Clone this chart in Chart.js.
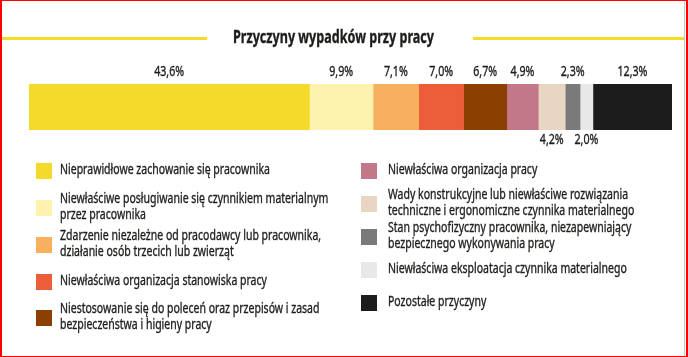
<!DOCTYPE html>
<html><head><meta charset="utf-8">
<script src="https://cdn.jsdelivr.net/npm/chart.js@4"></script>
<style>
html,body{margin:0;padding:0;background:#fff;}
#wrap{position:relative;width:688px;height:357px;overflow:hidden;}
canvas{position:absolute;left:0;top:0;}
#frame{position:absolute;left:0;top:0;width:688px;height:357px;box-sizing:border-box;border-top:1px solid #f00;border-left:2px solid #f00;border-right:2px solid #f00;border-bottom:1px solid #f00;pointer-events:none;}
#gline{position:absolute;left:684px;top:0;width:1px;height:357px;background:#c8c8c8;}
</style></head>
<body><div id="wrap"><canvas id="c" width="688" height="357"></canvas><div id="gline"></div><div id="frame"></div></div>
<script>
const chartTitle = 'Przyczyny wypadków przy pracy';
const categories = [
  ['Nieprawidłowe zachowanie się pracownika'],
  ['Niewłaściwe posługiwanie się czynnikiem materialnym', 'przez pracownika'],
  ['Zdarzenie niezależne od pracodawcy lub pracownika,', 'działanie osób trzecich lub zwierząt'],
  ['Niewłaściwa organizacja stanowiska pracy'],
  ['Niestosowanie się do poleceń oraz przepisów i zasad', 'bezpieczeństwa i higieny pracy'],
  ['Niewłaściwa organizacja pracy'],
  ['Wady konstrukcyjne lub niewłaściwe rozwiązania', 'techniczne i ergonomiczne czynnika materialnego'],
  ['Stan psychofizyczny pracownika, niezapewniający', 'bezpiecznego wykonywania pracy'],
  ['Niewłaściwa eksploatacja czynnika materialnego'],
  ['Pozostałe przyczyny']
];
const values = [43.6, 9.9, 7.1, 7.0, 6.7, 4.9, 4.2, 2.3, 2.0, 12.3];
const colors = ['#F5DA2C', '#FEF2AF', '#F7B05E', '#EC5E3A', '#8B3F00', '#C27889', '#E8D5C2', '#7A7A7A', '#E8E8E8', '#1C1C1C'];

const TEXT = '#1d1d1b';
const FONT = '"Noto Sans", "Open Sans", sans-serif';

function fitScale(ctx, font, ref, target) {
  ctx.save(); ctx.font = font; const w = ctx.measureText(ref).width; ctx.restore();
  return target / w;
}
function drawText(ctx, text, x, y, sx, align) {
  ctx.save(); ctx.translate(x, y); ctx.scale(sx, 1);
  ctx.textAlign = align; ctx.textBaseline = 'middle';
  ctx.fillText(text, 0, 0);
  ctx.lineWidth = 0.35; ctx.strokeStyle = ctx.fillStyle; ctx.strokeText(text, 0, 0);
  ctx.restore();
}

const decor = {
  id: 'decor',
  afterDraw(chart) {
    const ctx = chart.ctx;
    const tFont = 'bold 17px ' + FONT;
    const tsx = fitScale(ctx, tFont, chartTitle, 201);
    ctx.save();
    ctx.fillStyle = '#F5DA2C';
    ctx.fillRect(2, 37, 205, 3);
    ctx.fillRect(473, 37, 211, 3);
    ctx.fillStyle = TEXT; ctx.font = tFont;
    drawText(ctx, chartTitle, 333.5, 38, tsx, 'center');
    ctx.restore();

    const lFont = '14px ' + FONT;
    const lsx = fitScale(ctx, lFont, '43,6%', 30);
    ctx.save(); ctx.font = lFont; ctx.fillStyle = TEXT;
    const below = new Set([6, 8]);
    chart.data.datasets.forEach((ds, i) => {
      const el = chart.getDatasetMeta(i).data[0];
      const cx = (el.x + el.base) / 2;
      const top = el.y - el.height / 2, bot = el.y + el.height / 2;
      const txt = ds.data[0].toFixed(1).replace('.', ',') + '%';
      drawText(ctx, txt, cx, below.has(i) ? bot + 10 : top - 12, lsx, 'center');
    });
    ctx.restore();

    const gFont = '14px ' + FONT;
    const gsx = fitScale(ctx, gFont, 'Nieprawidłowe zachowanie się pracownika', 210);
    const cols = [
      {sq: 36, tx: 60, rows: [171, 208, 245, 282, 318]},
      {sq: 361, tx: 388, rows: [171, 204, 237, 270, 303]}
    ];
    ctx.save(); ctx.font = gFont;
    chart.data.datasets.forEach((ds, i) => {
      const col = cols[i < 5 ? 0 : 1];
      const cy = col.rows[i % 5];
      ctx.fillStyle = ds.backgroundColor;
      ctx.fillRect(col.sq, cy - 8, 16, 16);
      ctx.fillStyle = TEXT;
      const lines = categories[i];
      const lh = 16;
      const y0 = cy - (lines.length - 1) * lh / 2;
      lines.forEach((ln, k) => drawText(ctx, ln, col.tx, y0 + k * lh - 1, gsx, 'left'));
    });
    ctx.restore();
  }
};

new Chart(document.getElementById('c'), {
  type: 'bar',
  data: {
    labels: [''],
    datasets: values.map((v, i) => ({
      label: categories[i].join(' '),
      data: [v],
      backgroundColor: colors[i],
      borderWidth: 0,
      barPercentage: 1,
      categoryPercentage: 1
    }))
  },
  options: {
    indexAxis: 'y',
    responsive: false,
    animation: false,
    layout: {padding: {left: 29, right: 16, top: 84, bottom: 227}},
    scales: {
      x: {stacked: true, min: 0, max: 100, display: false},
      y: {stacked: true, display: false}
    },
    plugins: {legend: {display: false}, title: {display: false}, tooltip: {enabled: false}}
  },
  plugins: [decor]
});
</script>
</body></html>
